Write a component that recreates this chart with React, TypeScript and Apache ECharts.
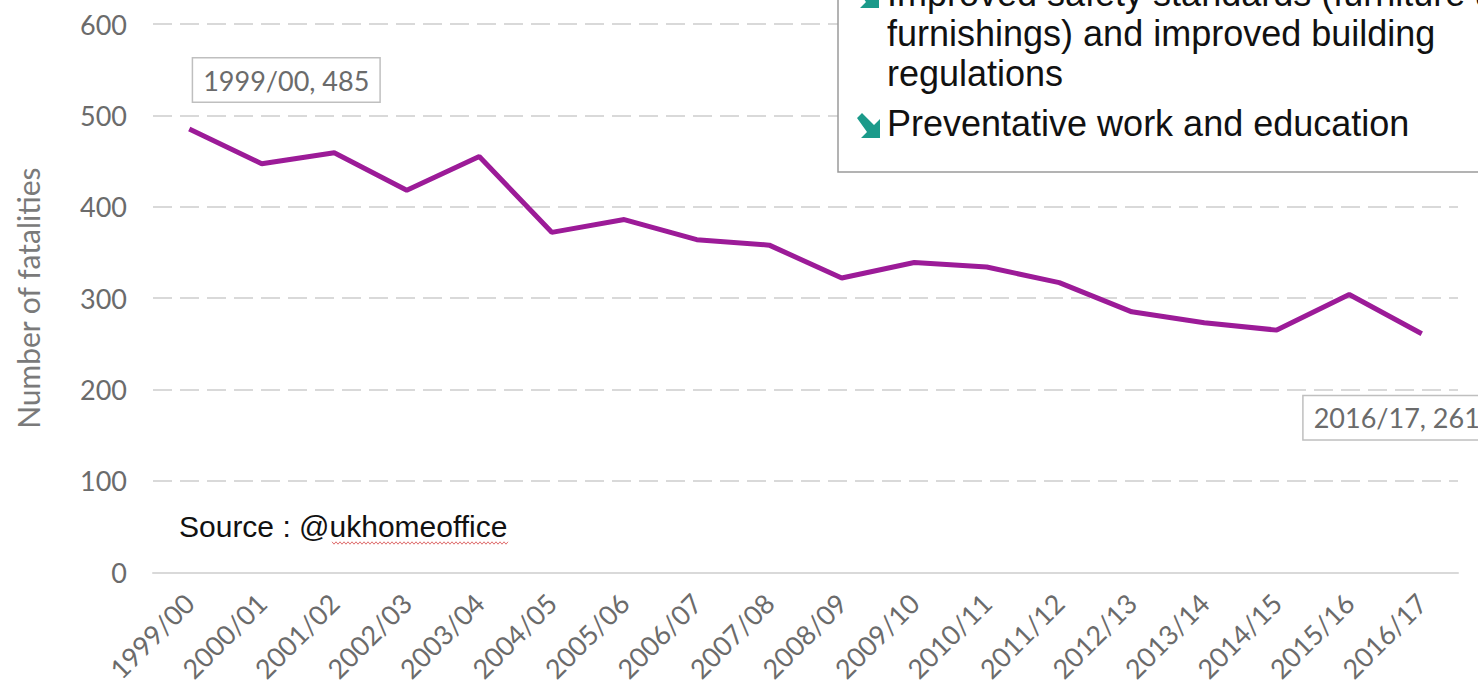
import React, { useEffect, useRef } from "react";
import * as echarts from "echarts";

const categories = [
  "1999/00", "2000/01", "2001/02", "2002/03", "2003/04", "2004/05",
  "2005/06", "2006/07", "2007/08", "2008/09", "2009/10", "2010/11",
  "2011/12", "2012/13", "2013/14", "2014/15", "2015/16", "2016/17",
];
const fatalities = [
  485, 447, 459, 418, 455, 372, 386, 364, 358, 322, 339, 334,
  317, 285, 273, 265, 304, 261,
];
const yTicks = { min: 0, max: 600, interval: 100 };
const yAxisName = "Number of fatalities";
const legendLines = [
  "Improved safety standards (furniture and",
  "furnishings) and improved building",
  "regulations",
];
const legendLine2 = "Preventative work and education";
const sourceText = "Source : @ukhomeoffice";

const LABEL_FONT = "Lato, 'Noto Sans', sans-serif";
const ARIAL = "'Liberation Sans', Arial, sans-serif";

function arrowPoints(x: number, y: number): number[][] {
  // heavy down-right arrow icon
  return [
    [x + 0, y + 5],
    [x + 5, y + 0],
    [x + 17, y + 12],
    [x + 23, y + 6],
    [x + 23, y + 25],
    [x + 4, y + 25],
    [x + 10, y + 19],
  ];
}

function wavy(x0: number, x1: number, y: number): number[][] {
  const pts: number[][] = [];
  let up = true;
  for (let x = x0; x <= x1; x += 2) {
    pts.push([x, up ? y - 1.2 : y + 1.2]);
    up = !up;
  }
  return pts;
}

export default function App() {
  const ref = useRef<HTMLDivElement>(null);
  useEffect(() => {
    if (!ref.current) return;
    const chart = echarts.init(ref.current, null, { renderer: "svg" });
    const last = categories.length - 1;
    const boxLabel = {
      show: true,
      position: "inside",
      color: "#6b6b6b",
      fontFamily: LABEL_FONT,
      fontSize: 27,
      backgroundColor: "#ffffff",
      borderColor: "#bfbfbf",
      borderWidth: 1.5,
      padding: [8, 10, 8, 10],
    };
    chart.setOption({
      animation: false,
      backgroundColor: "#ffffff",
      grid: { left: 153, right: 20, top: 24, bottom: 112, containLabel: false },
      xAxis: {
        type: "category",
        data: categories,
        boundaryGap: true,
        axisLine: { show: true, lineStyle: { color: "#d9d9d9", width: 2 } },
        axisTick: { show: false },
        axisLabel: {
          rotate: 45,
          margin: 26,
          color: "#6b6b6b",
          fontFamily: LABEL_FONT,
          fontSize: 27,
          interval: 0,
        },
        splitLine: { show: false },
      },
      yAxis: {
        type: "value",
        min: yTicks.min,
        max: yTicks.max,
        interval: yTicks.interval,
        name: yAxisName,
        nameLocation: "middle",
        nameGap: 110,
        nameTextStyle: {
          color: "#7a7a7a",
          fontFamily: LABEL_FONT,
          fontSize: 30,
        },
        axisLine: { show: false },
        axisTick: { show: false },
        axisLabel: {
          margin: 26,
          color: "#6b6b6b",
          fontFamily: LABEL_FONT,
          fontSize: 27,
        },
        splitLine: {
          show: true,
          lineStyle: { color: "#d9d9d9", width: 2, type: [19, 8] },
        },
      },
      series: [
        {
          type: "line",
          data: fatalities,
          showSymbol: false,
          symbol: "none",
          lineStyle: { color: "#9c1b98", width: 5 },
          itemStyle: { color: "#9c1b98" },
          markPoint: {
            symbol: "circle",
            symbolSize: 1,
            itemStyle: { color: "rgba(0,0,0,0)" },
            data: [
              {
                coord: [categories[0], fatalities[0]],
                label: {
                  ...boxLabel,
                  offset: [97, -49],
                  formatter: `${categories[0]}, ${fatalities[0]}`,
                },
              },
              {
                coord: [categories[last], fatalities[last]],
                label: {
                  ...boxLabel,
                  offset: [-25, 84],
                  formatter: `${categories[last]}, ${fatalities[last]}`,
                },
              },
            ],
          },
        },
      ],
      graphic: [
        {
          type: "rect",
          z: 100,
          shape: { x: 838, y: -10, width: 700, height: 182 },
          style: { fill: "#ffffff", stroke: "#9a9a9a", lineWidth: 1.5 },
        },
        {
          type: "polygon",
          z: 101,
          shape: { points: arrowPoints(856, -17) },
          style: { fill: "#1b9a8a" },
        },
        ...legendLines.map((t, i) => ({
          type: "text",
          z: 101,
          x: 887,
          y: -25 + i * 40,
          style: {
            text: t,
            fill: "#111111",
            font: `36px ${ARIAL}`,
            verticalAlign: "top",
          },
        })),
        {
          type: "polygon",
          z: 101,
          shape: { points: arrowPoints(857, 113) },
          style: { fill: "#1b9a8a" },
        },
        {
          type: "text",
          z: 101,
          x: 887,
          y: 105,
          style: {
            text: legendLine2,
            fill: "#111111",
            font: `36px ${ARIAL}`,
            verticalAlign: "top",
          },
        },
        {
          type: "text",
          z: 101,
          x: 179,
          y: 511,
          style: {
            text: sourceText,
            fill: "#111111",
            font: `30px ${ARIAL}`,
            verticalAlign: "top",
          },
        },
        {
          type: "polyline",
          z: 101,
          shape: { points: wavy(332, 508, 543) },
          style: { stroke: "#e07070", lineWidth: 1, fill: "none" },
        },
      ],
    });
    return () => chart.dispose();
  }, []);
  return (
    <div
      ref={ref}
      style={{
        position: "fixed",
        left: 0,
        top: 0,
        width: 1478,
        height: 685,
        background: "#ffffff",
      }}
    />
  );
}
